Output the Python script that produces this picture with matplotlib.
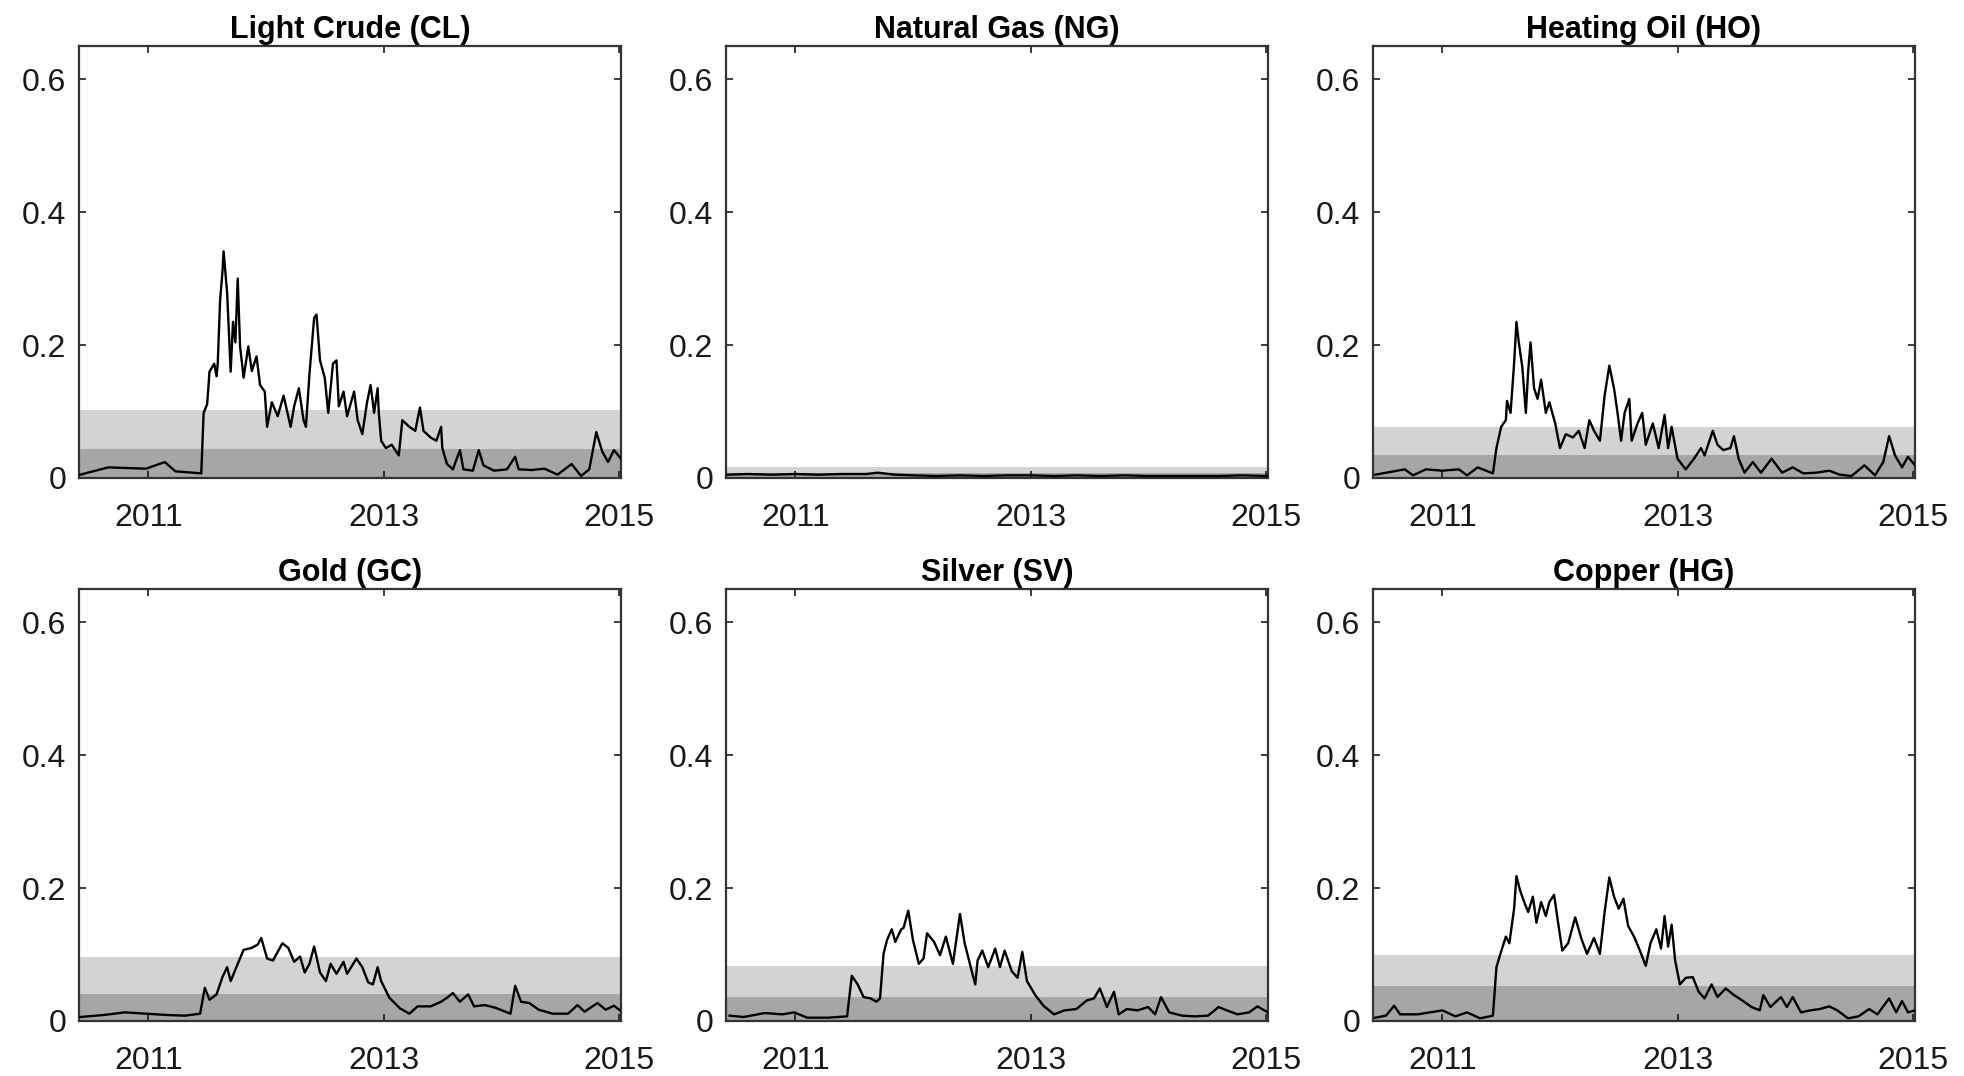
import numpy as np
import matplotlib
matplotlib.use("Agg")
import matplotlib.pyplot as plt
from matplotlib.ticker import FixedLocator, FixedFormatter

plt.rcParams['font.family'] = ['Liberation Sans', 'DejaVu Sans']

# Estimated probability series per contract (time in fractional years)
cl_t = [2010.42, 2010.66, 2010.98, 2011.14, 2011.23, 2011.45, 2011.47, 2011.50, 2011.52, 2011.56,
        2011.58, 2011.59, 2011.61, 2011.63, 2011.64, 2011.67, 2011.70, 2011.72, 2011.74, 2011.76,
        2011.78, 2011.81, 2011.85, 2011.88, 2011.92, 2011.95, 2011.99, 2012.01, 2012.05, 2012.10,
        2012.15, 2012.21, 2012.24, 2012.28, 2012.32, 2012.34, 2012.37, 2012.41, 2012.43, 2012.46,
        2012.50, 2012.53, 2012.57, 2012.60, 2012.62, 2012.66, 2012.69, 2012.75, 2012.78, 2012.82,
        2012.86, 2012.89, 2012.92, 2012.95, 2012.96, 2012.98, 2013.02, 2013.07, 2013.13, 2013.16,
        2013.22, 2013.27, 2013.31, 2013.34, 2013.40, 2013.45, 2013.49, 2013.50, 2013.54, 2013.59,
        2013.65, 2013.68, 2013.76, 2013.81, 2013.85, 2013.94, 2014.05, 2014.12, 2014.15, 2014.26,
        2014.37, 2014.48, 2014.60, 2014.68, 2014.75, 2014.81, 2014.86, 2014.91, 2014.96, 2015.02]
cl_v = [0.005, 0.016, 0.014, 0.024, 0.010, 0.007, 0.098, 0.111, 0.160, 0.172,
        0.153, 0.172, 0.267, 0.310, 0.341, 0.278, 0.160, 0.235, 0.204, 0.300,
        0.198, 0.151, 0.198, 0.161, 0.183, 0.140, 0.130, 0.077, 0.114, 0.093,
        0.124, 0.077, 0.108, 0.135, 0.087, 0.077, 0.156, 0.241, 0.246, 0.177,
        0.151, 0.098, 0.172, 0.177, 0.108, 0.130, 0.093, 0.130, 0.087, 0.066,
        0.114, 0.140, 0.098, 0.135, 0.098, 0.056, 0.045, 0.050, 0.034, 0.087,
        0.077, 0.071, 0.106, 0.071, 0.061, 0.056, 0.077, 0.045, 0.021, 0.013,
        0.042, 0.013, 0.011, 0.042, 0.019, 0.011, 0.013, 0.032, 0.013, 0.012,
        0.014, 0.005, 0.021, 0.003, 0.013, 0.069, 0.040, 0.024, 0.042, 0.029]

ng_t = [2010.42, 2010.60, 2010.80, 2011.00, 2011.20, 2011.40, 2011.60, 2011.70, 2011.85, 2012.00,
        2012.20, 2012.40, 2012.60, 2012.80, 2013.00, 2013.20, 2013.40, 2013.60, 2013.80, 2014.00,
        2014.20, 2014.40, 2014.60, 2014.80, 2015.02]
ng_v = [0.005, 0.006, 0.005, 0.006, 0.005, 0.006, 0.006, 0.008, 0.005, 0.004,
        0.003, 0.004, 0.003, 0.004, 0.004, 0.003, 0.004, 0.003, 0.004, 0.003,
        0.003, 0.003, 0.003, 0.004, 0.003]

ho_t = [2010.43, 2010.68, 2010.75, 2010.86, 2011.00, 2011.14, 2011.21, 2011.30, 2011.43, 2011.46,
        2011.50, 2011.54, 2011.55, 2011.58, 2011.61, 2011.63, 2011.65, 2011.68, 2011.71, 2011.73,
        2011.75, 2011.78, 2011.81, 2011.84, 2011.88, 2011.91, 2011.96, 2012.00, 2012.05, 2012.11,
        2012.16, 2012.21, 2012.25, 2012.29, 2012.34, 2012.38, 2012.42, 2012.46, 2012.49, 2012.52,
        2012.55, 2012.59, 2012.61, 2012.66, 2012.70, 2012.73, 2012.79, 2012.84, 2012.89, 2012.92,
        2012.95, 2013.00, 2013.07, 2013.14, 2013.20, 2013.23, 2013.30, 2013.34, 2013.39, 2013.45,
        2013.48, 2013.52, 2013.57, 2013.64, 2013.71, 2013.80, 2013.89, 2013.98, 2014.07, 2014.18,
        2014.29, 2014.38, 2014.48, 2014.59, 2014.68, 2014.75, 2014.80, 2014.85, 2014.91, 2014.96,
        2015.02]
ho_v = [0.005, 0.013, 0.004, 0.013, 0.011, 0.013, 0.004, 0.016, 0.007, 0.045,
        0.077, 0.087, 0.116, 0.098, 0.172, 0.235, 0.204, 0.167, 0.098, 0.161,
        0.204, 0.135, 0.119, 0.148, 0.098, 0.114, 0.082, 0.045, 0.066, 0.061,
        0.071, 0.045, 0.087, 0.071, 0.056, 0.124, 0.169, 0.135, 0.098, 0.056,
        0.098, 0.119, 0.056, 0.082, 0.098, 0.050, 0.082, 0.045, 0.095, 0.045,
        0.077, 0.029, 0.013, 0.029, 0.045, 0.034, 0.071, 0.050, 0.042, 0.045,
        0.063, 0.029, 0.008, 0.024, 0.008, 0.029, 0.008, 0.016, 0.007, 0.008,
        0.011, 0.005, 0.003, 0.019, 0.004, 0.024, 0.063, 0.034, 0.016, 0.032,
        0.019]

gc_t = [2010.42, 2010.62, 2010.80, 2010.98, 2011.16, 2011.31, 2011.44, 2011.48, 2011.52, 2011.58,
        2011.63, 2011.67, 2011.70, 2011.76, 2011.81, 2011.88, 2011.93, 2011.96, 2012.01, 2012.06,
        2012.14, 2012.19, 2012.24, 2012.29, 2012.33, 2012.37, 2012.41, 2012.46, 2012.51, 2012.55,
        2012.60, 2012.66, 2012.69, 2012.77, 2012.82, 2012.87, 2012.91, 2012.95, 2012.98, 2013.05,
        2013.14, 2013.22, 2013.29, 2013.40, 2013.49, 2013.54, 2013.59, 2013.65, 2013.72, 2013.77,
        2013.86, 2013.95, 2014.08, 2014.12, 2014.17, 2014.24, 2014.32, 2014.44, 2014.57, 2014.65,
        2014.71, 2014.82, 2014.89, 2014.96, 2015.02]
gc_v = [0.006, 0.009, 0.013, 0.011, 0.009, 0.008, 0.011, 0.050, 0.032, 0.040,
        0.066, 0.081, 0.060, 0.086, 0.107, 0.110, 0.115, 0.125, 0.094, 0.091,
        0.117, 0.110, 0.089, 0.097, 0.073, 0.086, 0.112, 0.073, 0.060, 0.086,
        0.071, 0.089, 0.071, 0.094, 0.081, 0.058, 0.055, 0.081, 0.060, 0.035,
        0.019, 0.011, 0.022, 0.022, 0.029, 0.035, 0.042, 0.029, 0.040, 0.022,
        0.024, 0.020, 0.011, 0.053, 0.029, 0.027, 0.017, 0.011, 0.011, 0.024,
        0.014, 0.027, 0.017, 0.023, 0.015]

sv_t = [2010.44, 2010.56, 2010.74, 2010.89, 2010.99, 2011.10, 2011.28, 2011.44, 2011.48, 2011.53,
        2011.58, 2011.64, 2011.69, 2011.72, 2011.75, 2011.78, 2011.82, 2011.85, 2011.90, 2011.92,
        2011.96, 2012.00, 2012.05, 2012.09, 2012.12, 2012.18, 2012.23, 2012.28, 2012.34, 2012.40,
        2012.44, 2012.50, 2012.53, 2012.55, 2012.59, 2012.64, 2012.70, 2012.74, 2012.78, 2012.84,
        2012.89, 2012.93, 2012.97, 2013.04, 2013.11, 2013.20, 2013.29, 2013.39, 2013.48, 2013.54,
        2013.59, 2013.65, 2013.71, 2013.75, 2013.82, 2013.91, 2014.00, 2014.06, 2014.11, 2014.18,
        2014.29, 2014.40, 2014.51, 2014.60, 2014.67, 2014.76, 2014.86, 2014.93, 2015.02]
sv_v = [0.008, 0.006, 0.012, 0.010, 0.013, 0.005, 0.005, 0.007, 0.068, 0.055,
        0.036, 0.034, 0.029, 0.034, 0.101, 0.122, 0.138, 0.119, 0.138, 0.140,
        0.166, 0.122, 0.086, 0.094, 0.132, 0.119, 0.099, 0.127, 0.086, 0.161,
        0.117, 0.075, 0.055, 0.091, 0.106, 0.081, 0.109, 0.081, 0.106, 0.075,
        0.065, 0.104, 0.060, 0.039, 0.023, 0.010, 0.016, 0.018, 0.031, 0.034,
        0.049, 0.021, 0.044, 0.010, 0.018, 0.016, 0.021, 0.010, 0.036, 0.013,
        0.008, 0.007, 0.008, 0.021, 0.016, 0.010, 0.013, 0.022, 0.013]

hg_t = [2010.43, 2010.52, 2010.59, 2010.64, 2010.79, 2010.93, 2011.00, 2011.11, 2011.21, 2011.32,
        2011.43, 2011.46, 2011.49, 2011.54, 2011.57, 2011.61, 2011.63, 2011.66, 2011.70, 2011.73,
        2011.77, 2011.80, 2011.84, 2011.88, 2011.91, 2011.95, 2011.98, 2012.02, 2012.07, 2012.13,
        2012.18, 2012.23, 2012.29, 2012.34, 2012.38, 2012.42, 2012.46, 2012.50, 2012.54, 2012.58,
        2012.63, 2012.68, 2012.73, 2012.77, 2012.82, 2012.86, 2012.89, 2012.92, 2012.95, 2012.98,
        2013.02, 2013.07, 2013.13, 2013.18, 2013.23, 2013.29, 2013.34, 2013.41, 2013.48, 2013.55,
        2013.63, 2013.70, 2013.73, 2013.79, 2013.88, 2013.93, 2013.98, 2014.05, 2014.13, 2014.21,
        2014.29, 2014.36, 2014.45, 2014.54, 2014.63, 2014.70, 2014.80, 2014.86, 2014.91, 2014.96,
        2015.02]
hg_v = [0.005, 0.008, 0.023, 0.010, 0.010, 0.014, 0.016, 0.007, 0.013, 0.004,
        0.008, 0.081, 0.099, 0.127, 0.117, 0.169, 0.218, 0.197, 0.177, 0.164,
        0.187, 0.148, 0.179, 0.158, 0.179, 0.190, 0.153, 0.106, 0.117, 0.156,
        0.125, 0.101, 0.125, 0.101, 0.164, 0.216, 0.187, 0.169, 0.184, 0.143,
        0.127, 0.106, 0.083, 0.117, 0.138, 0.109, 0.158, 0.112, 0.145, 0.091,
        0.055, 0.065, 0.066, 0.044, 0.034, 0.055, 0.036, 0.049, 0.039, 0.031,
        0.021, 0.016, 0.039, 0.021, 0.036, 0.021, 0.036, 0.013, 0.016, 0.018,
        0.022, 0.016, 0.004, 0.007, 0.018, 0.010, 0.034, 0.013, 0.030, 0.013,
        0.016]

titles = ["Light Crude (CL)", "Natural Gas (NG)", "Heating Oil (HO)",
          "Gold (GC)", "Silver (SV)", "Copper (HG)"]
series = [(cl_t, cl_v), (ng_t, ng_v), (ho_t, ho_v),
          (gc_t, gc_v), (sv_t, sv_v), (hg_t, hg_v)]
# upper edges of the shaded bands: (light band, dark band)
band_hi = [0.102, 0.017, 0.077, 0.097, 0.083, 0.100]
band_lo = [0.043, 0.007, 0.035, 0.041, 0.036, 0.053]

yticks = [0, 0.2, 0.4, 0.6]
ytick_labels = ["0", "0.2", "0.4", "0.6"]
xticks = [2011, 2013, 2015]
xtick_labels = ["2011", "2013", "2015"]

W, H = 1965, 1076
fig = plt.figure(figsize=(W / 100, H / 100), dpi=100)

col_left = [79, 726, 1373]
row_bottom = [478, 1021]
ax_w, ax_h = 542, 432

for i, (title, (t, v)) in enumerate(zip(titles, series)):
    r, c = divmod(i, 3)
    ax = fig.add_axes([col_left[c] / W, 1 - row_bottom[r] / H, ax_w / W, ax_h / H])
    ax.axhspan(0, band_hi[i], color="#d3d3d3", lw=0, zorder=0)
    ax.axhspan(0, band_lo[i], color="#a6a6a6", lw=0, zorder=1)
    ax.plot(t, v, color="black", lw=1.7, zorder=3)
    ax.set_xlim(2010.41, 2015.02)
    ax.set_ylim(0, 0.65)
    ax.xaxis.set_major_locator(FixedLocator(xticks))
    ax.xaxis.set_major_formatter(FixedFormatter(xtick_labels))
    ax.yaxis.set_major_locator(FixedLocator(yticks))
    ax.yaxis.set_major_formatter(FixedFormatter(ytick_labels))
    ax.tick_params(direction="in", top=True, right=True, length=5, width=1.2,
                   labelsize=23, colors="#1a1a1a")
    ax.tick_params(axis="x", pad=18)
    ax.tick_params(axis="y", pad=9)
    for s in ax.spines.values():
        s.set_linewidth(1.6)
        s.set_color("#333333")
    ax.set_title(title, fontsize=22, fontweight="bold", pad=6)

fig.savefig("out.png", dpi=100)
